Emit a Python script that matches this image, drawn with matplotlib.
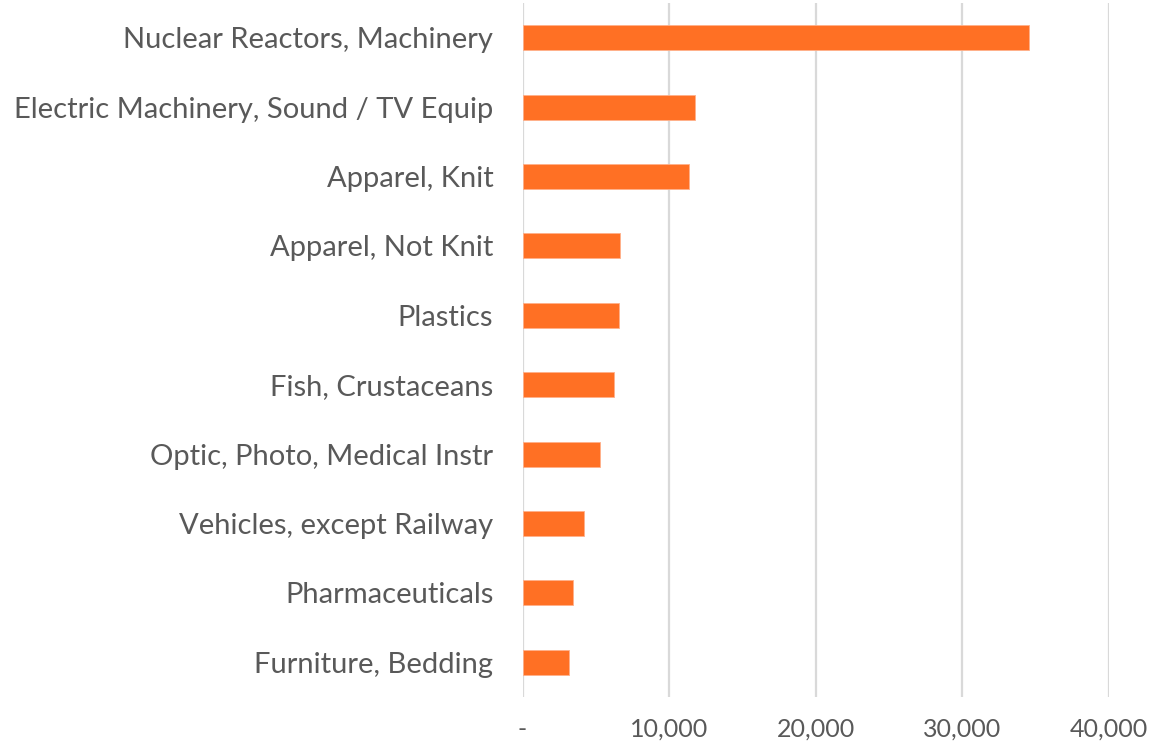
import matplotlib
matplotlib.use("Agg")
import matplotlib.pyplot as plt
from matplotlib.ticker import FuncFormatter

categories = [
    "Nuclear Reactors, Machinery",
    "Electric Machinery, Sound / TV Equip",
    "Apparel, Knit",
    "Apparel, Not Knit",
    "Plastics",
    "Fish, Crustaceans",
    "Optic, Photo, Medical Instr",
    "Vehicles, except Railway",
    "Pharmaceuticals",
    "Furniture, Bedding",
]
values = [34600, 11780, 11370, 6650, 6570, 6250, 5290, 4200, 3450, 3180]
xticks = [0, 10000, 20000, 30000, 40000]

BAR = "#FF7024"
TEXT = "#595959"
GRID = "#D9D9D9"

plt.rcParams["font.family"] = ["Lato", "DejaVu Sans"]

fig = plt.figure(figsize=(11.52, 7.49), dpi=100)
ax = fig.add_axes([522.5 / 1152, 1 - 697 / 749, (1108.5 - 522.5) / 1152, 694 / 749])

ypos = list(range(len(categories)))
ax.barh(ypos, values, height=0.36, color=BAR, edgecolor="#FFB08A", linewidth=0.6, zorder=3)
ax.set_ylim(len(categories) - 0.5, -0.5)
ax.set_xlim(0, 40000)
ax.set_xticks(xticks)
ax.xaxis.set_major_formatter(FuncFormatter(lambda v, p: "-" if v == 0 else f"{v:,.0f}"))
ax.set_yticks(ypos)
ax.set_yticklabels(categories)

ax.grid(axis="x", color=GRID, linewidth=1.6, zorder=0)
for s in ax.spines.values():
    s.set_visible(False)
ax.tick_params(axis="y", length=0, pad=21, labelsize=21, labelcolor=TEXT)
ax.tick_params(axis="x", length=0, pad=15, labelsize=18, labelcolor=TEXT)

fig.savefig("out.png", dpi=100)
